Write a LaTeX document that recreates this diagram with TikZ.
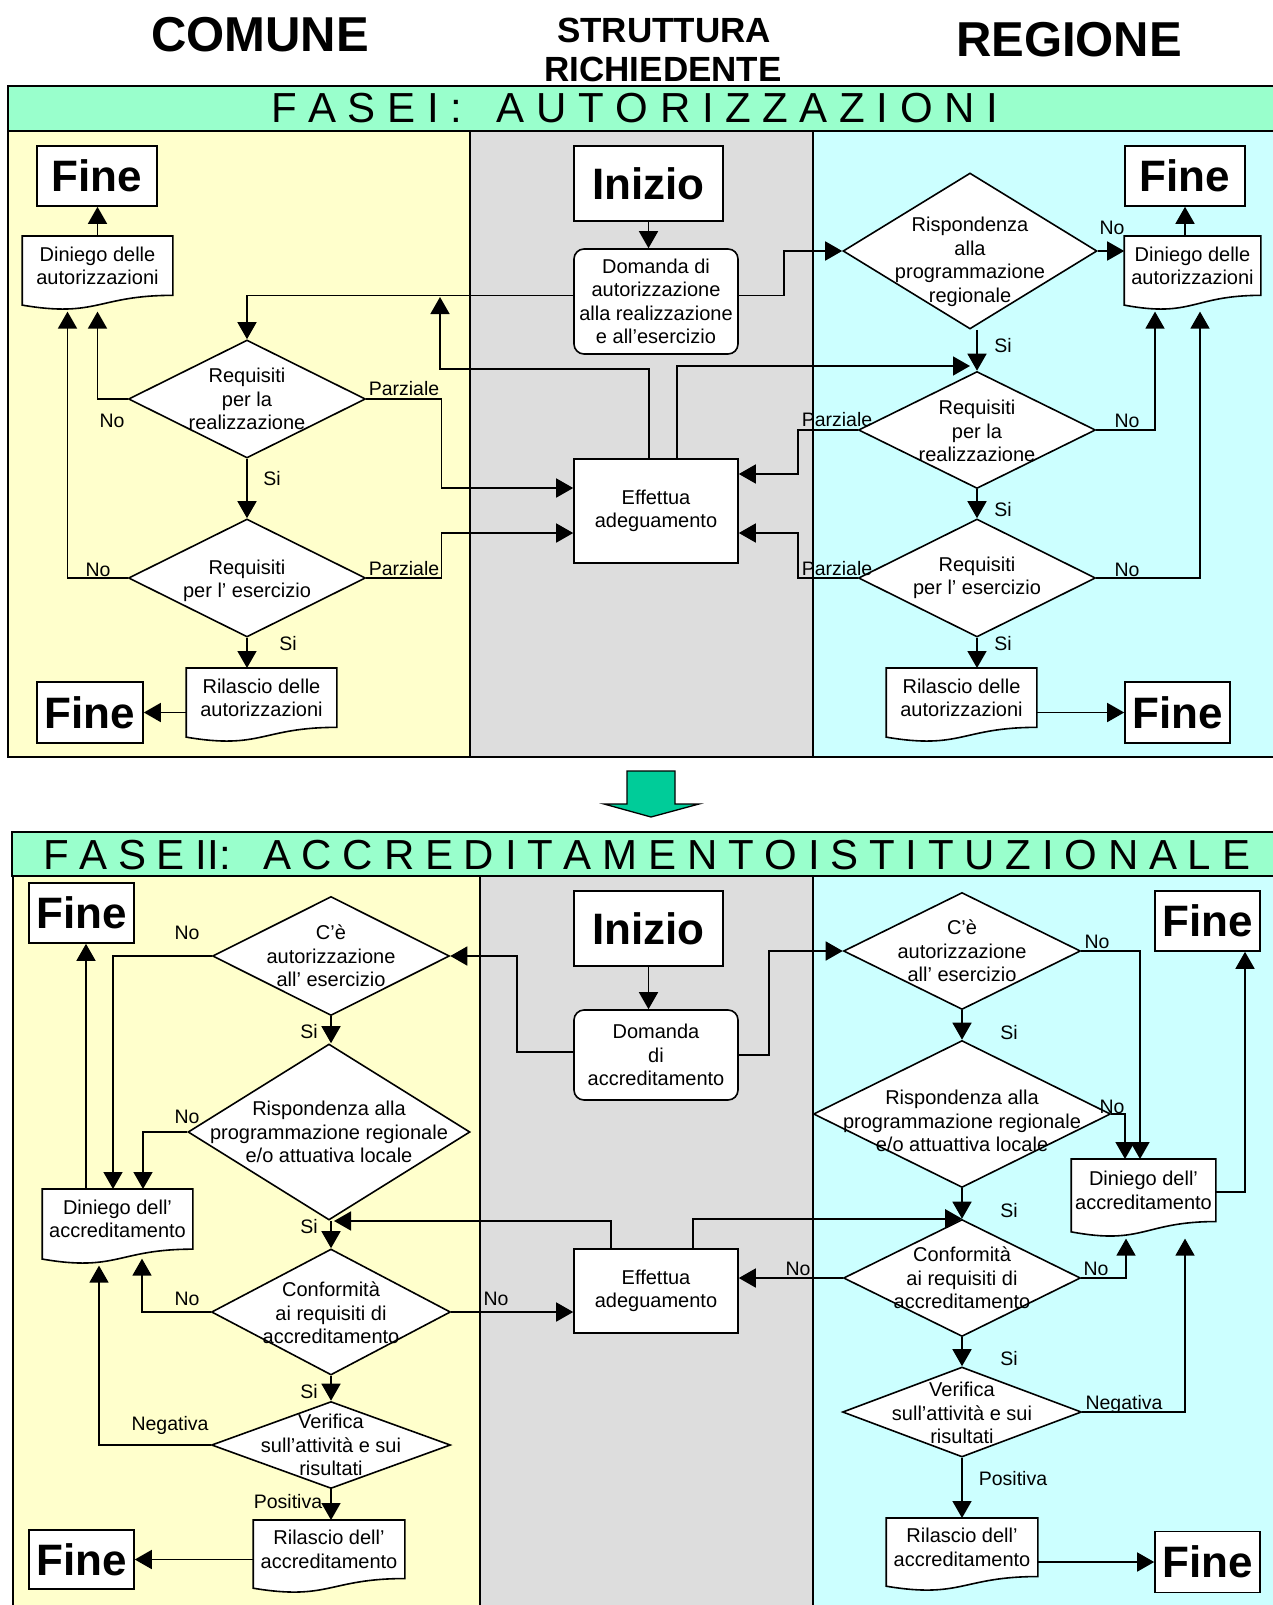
\documentclass[tikz,border=0pt]{standalone}
\usepackage{fontspec}
\setmainfont{Liberation Sans}
\usetikzlibrary{shapes.geometric,arrows.meta,calc}
\definecolor{lyellow}{HTML}{FFFFCC}
\definecolor{lgrey}{HTML}{DDDDDD}
\definecolor{lcyan}{HTML}{CCFFFF}
\definecolor{bandc}{HTML}{99FFCC}
\definecolor{garrow}{HTML}{00CC99}

\newcommand\docnode[6]{%
  \node[docn, minimum width=#4pt, minimum height=#5pt, anchor=north] (#1) at (#2,#3) {};
  \draw[fill=white] (#1.north west) -- (#1.north east) -- ($(#1.north east)+(0,{0.802*#5})$)
    .. controls ($(#1.north)+(0,{0.802*#5})$) and ($(#1.north)+(0,{1.1075*#5})$) ..
    ($(#1.north west)+(0,{0.934*#5})$) -- cycle;
  \node[txt] (#1-t) at ($(#1.north)+(0,{0.401*#5})$) {#6};
}
\newcommand\dianode[7]{%
  \node[dian, minimum width=#4pt, minimum height=#5pt] (#1) at (#2,#3) {};
  \node[txt] (#1-t) at (#2,#3+#6) {#7};
}

\begin{document}
\begin{tikzpicture}[x=1pt,y=-1pt,
  line width=1.6pt,
  txt/.style={font=\fontsize{20}{23.5}\selectfont, align=center, inner sep=0pt},
  lbl/.style={font=\fontsize{19.5}{23}\selectfont, inner sep=0pt},
  boxn/.style={rectangle, draw, fill=white, inner sep=0pt, txt},
  finen/.style={boxn, font=\fontsize{44}{50}\bfseries},
  roundn/.style={boxn, rounded corners=10pt},
  dian/.style={diamond, draw, fill=white, inner sep=0pt},
  docn/.style={rectangle, inner sep=0pt},
  arr/.style={-{Triangle[length=17pt,width=19pt]}},
  hdr/.style={anchor=base, inner sep=0pt},
]
\useasboundingbox (0,0) rectangle (1273,1605);

% ---------- headers ----------
\node[hdr, font=\fontsize{49}{55}\bfseries] (hc) at (260,52) {COMUNE};
\node[hdr, font=\fontsize{35}{40}\bfseries] (hs1) at (664,43) {STRUTTURA};
\node[hdr, font=\fontsize{35}{40}\bfseries] (hs2) at (663,82) {RICHIEDENTE};
\node[hdr, font=\fontsize{49}{55}\bfseries] (hr) at (1069,57) {REGIONE};

% ---------- phase I frame ----------
\path[fill=bandc, draw] (8,86) rectangle (1290,131);
\path[fill=lyellow, draw] (8,131) rectangle (470,757);
\path[fill=lgrey, draw] (470,131) rectangle (813,757);
\path[fill=lcyan, draw] (813,131) rectangle (1290,757);
\node[hdr, font=\fontsize{42}{48}\selectfont] (t1) at (634.5,123)
  {\makebox[727pt][s]{F A S E I :\ \ \ A U T O R I Z Z A Z I O N I}};

% ---------- transition arrow ----------
\path[fill=garrow, draw, line width=1.3pt] (627,771) -- (675,771) -- (675,804) -- (699,804)
  -- (651,817) -- (604,804) -- (627,804) -- cycle;

% ---------- phase II frame ----------
\path[fill=bandc, draw] (12,832) rectangle (1290,876);
\path[fill=lyellow, draw] (13,876) rectangle (480,1620);
\path[fill=lgrey, draw] (480,876) rectangle (813,1620);
\path[fill=lcyan, draw] (813,876) rectangle (1290,1620);
\node[hdr, font=\fontsize{42}{48}\selectfont] (t2) at (646.5,869)
  {\makebox[1207pt][s]{F A S E II:\ \ \ A C C R E D I T A M E N T O I S T I T U Z I O N A L E}};

% ================= PHASE I nodes =================
\node[finen, minimum width=120pt, minimum height=60pt] (f1) at (97,176) {Fine};
\docnode{dl1}{97.5}{236}{149}{74}{Diniego delle\\autorizzazioni}
\dianode{rl1}{247}{399}{237}{118}{0}{Requisiti\\per la\\realizzazione}
\dianode{re1}{247}{578}{237}{118}{3}{Requisiti\\per l’ esercizio}
\docnode{il1}{261.5}{668}{149}{74}{Rilascio delle\\autorizzazioni}
\node[finen, minimum width=106pt, minimum height=61pt] (f2) at (90,712.5) {Fine};

\node[finen, minimum width=149pt, minimum height=75pt] (s1) at (648.5,183.5) {Inizio};
\node[roundn, minimum width=164pt, minimum height=105pt] (d1) at (656,301.5)
  {Domanda di\\autorizzazione\\alla realizzazione\\e all’esercizio};
\node[boxn, minimum width=164pt, minimum height=104pt] (e1) at (656,511) {Effettua\\adeguamento};

\dianode{rp1}{970}{251}{254}{156}{11}{Rispondenza\\alla\\programmazione\\regionale}
\docnode{dr1}{1192.5}{236}{135}{74}{Diniego delle\\autorizzazioni}
\node[finen, minimum width=120pt, minimum height=60pt] (f3) at (1185,176) {Fine};
\dianode{rr1}{977}{430}{237}{117}{1}{Requisiti\\per la\\realizzazione}
\dianode{re2}{977}{578}{237}{118}{0}{Requisiti\\per l’ esercizio}
\docnode{ir1}{961.5}{668}{149}{74}{Rilascio delle\\autorizzazioni}
\node[finen, minimum width=105pt, minimum height=61pt] (f4) at (1177.5,712.5) {Fine};

% ================= PHASE I connectors =================
\draw[arr] (s1.south) -- (s1.south |- d1.north);
\draw[arr] (dl1.north) -- (dl1.north |- f1.south);
\draw[arr] ([yshift=6pt]d1.west) -| (rl1.north);
\draw[arr] ([yshift=6pt]d1.east) -- ++(45,0) |- (rp1.west);
\coordinate (j1) at (440,297);
\draw[arr] ([xshift=-7pt]e1.north) -- ++(0,-89) -| (j1);
\coordinate (j2) at (970,366);
\draw[arr] ([xshift=21pt]e1.north) |- (j2);
\draw[arr] (rp1.south -| rr1.north) -- (rr1.north);
\draw[arr] (rp1.east) -- (rp1.east -| dr1.west);
\draw[arr] (f3.south |- dr1.north) -- (f3.south);
\draw[arr] (rl1.west) -| (dl1.south);
\draw[arr] (rl1.east) -- ++(75,0) |- ([yshift=23pt]e1.west);
\draw[arr] (rl1.south) -- (re1.north);
\draw[arr] (re1.west) -| ([xshift=-30pt]dl1.south);
\draw[arr] (re1.east) -- ++(75,0) |- ([yshift=-22pt]e1.west);
\draw[arr] (re1.south) -- (re1.south |- il1.north);
\draw[arr] (il1.west |- f2.east) -- (f2.east);
\draw[arr] (rr1.east) -| ([xshift=-37.5pt]dr1.south);
\draw[arr] (rr1.west) -- ++(-60,0) |- ([yshift=37pt]e1.east);
\draw[arr] (rr1.south) -- (re2.north);
\draw[arr] (re2.east) -| ([xshift=7.5pt]dr1.south);
\draw[arr] (re2.west) -- ++(-60,0) |- ([yshift=-22pt]e1.east);
\draw[arr] (re2.south) -- (re2.south |- ir1.north);
\draw[arr] (ir1.east |- f4.west) -- (f4.west);

% labels phase I
\node[lbl] (la1) at (1112,228) {No};
\node[lbl] (la2) at (1003,346) {Si};
\node[lbl] (la3) at (112,421) {No};
\node[lbl] (la4) at (404,389) {Parziale};
\node[lbl] (la5) at (272,479) {Si};
\node[lbl] (la6) at (98,570) {No};
\node[lbl] (la7) at (404,569) {Parziale};
\node[lbl] (la8) at (288,644) {Si};
\node[lbl] (la9) at (1127,421) {No};
\node[lbl] (la10) at (837,420) {Parziale};
\node[lbl] (la11) at (1003,510) {Si};
\node[lbl] (la12) at (1127,570) {No};
\node[lbl] (la13) at (837,569) {Parziale};
\node[lbl] (la14) at (1003,644) {Si};

% ================= PHASE II nodes =================
\node[finen, minimum width=105pt, minimum height=60pt] (f5) at (81.5,913) {Fine};
\dianode{cal}{331}{956}{237}{119}{0}{C’è\\autorizzazione\\all’ esercizio}
\dianode{rpl}{329}{1132}{282}{176}{0}{Rispondenza alla\\programmazione regionale\\e/o attuativa locale}
\docnode{dl3}{117.5}{1189}{149}{75}{Diniego dell’\\accreditamento}
\dianode{cfl}{331}{1312}{239}{126}{1}{Conformità\\ai requisiti di\\accreditamento}
\dianode{vfl}{331}{1445}{239}{87}{0}{Verifica\\sull’attività e sui\\risultati}
\docnode{il2}{329}{1520}{150}{73}{Rilascio dell’\\accreditamento}
\node[finen, minimum width=105pt, minimum height=59pt] (f6) at (81.5,1559.5) {Fine};

\node[finen, minimum width=149pt, minimum height=75pt] (s2) at (648.5,928.5) {Inizio};
\node[roundn, minimum width=164pt, minimum height=90pt] (d2) at (656,1055) {Domanda\\di\\accreditamento};
\node[boxn, minimum width=164pt, minimum height=84pt] (e2) at (656,1291) {Effettua\\adeguamento};

\dianode{car}{962}{951}{237}{117}{0}{C’è\\autorizzazione\\all’ esercizio}
\dianode{rpr}{962}{1114}{297}{147}{7}{Rispondenza alla\\programmazione regionale\\e/o attuattiva locale}
\docnode{dr3}{1143.5}{1159}{143}{78}{Diniego dell’\\accreditamento}
\node[finen, minimum width=105pt, minimum height=60pt] (f7) at (1207.5,921) {Fine};
\dianode{cfr}{962}{1278}{237}{117}{0}{Conformità\\ai requisiti di\\accreditamento}
\dianode{vfr}{962}{1412}{239}{90}{1}{Verifica\\sull’attività e sui\\risultati}
\docnode{ir2}{962}{1518}{150}{73}{Rilascio dell’\\accreditamento}
\node[finen, minimum width=105pt, minimum height=61pt] (f8) at (1207.5,1562) {Fine};

% ================= PHASE II connectors =================
\draw[arr] (s2.south) -- (s2.south |- d2.north);
\draw[arr] ([yshift=3pt]d2.west) -- ++(-56,0) |- (cal.east);
\draw[arr] (d2.east) -- ++(30,0) |- (car.west);
\draw[arr] (cal.west) -| ([xshift=-4.5pt]dl3.north);
\draw[arr] (cal.south) -- (cal.south |- rpl.north);
\draw[arr] (rpl.west) -| ([xshift=25.5pt]dl3.north);
\draw[arr] ([xshift=-31.5pt]dl3.north) -- ([xshift=4.5pt]f5.south);
\draw[arr] (cfl.north |- rpl.south) -- (cfl.north);
\coordinate (j3) at (334,1221);
\draw[arr] ([xshift=-45pt]e2.north) |- (j3);
\draw[arr] ([xshift=37pt]e2.north) |- (cfr.north);
\draw[arr] (cfl.east) -- (cfl.east -| e2.west);
\draw[arr] (cfl.west) -| ([xshift=24.5pt,yshift=7pt]dl3.south);
\draw[arr] (cfl.south) -- (vfl.north);
\draw[arr] (vfl.west) -| ([xshift=-18.5pt]dl3.south);
\draw[arr] (vfl.south) -- (vfl.south |- il2.north);
\draw[arr] (il2.west |- f6.east) -- (f6.east);
\draw[arr] (car.east) -| ([xshift=-3.5pt]dr3.north);
\draw[arr] (car.south) -- (rpr.north);
\draw[arr] (rpr.east) -| ([xshift=-18.5pt]dr3.north);
\draw[arr] ([yshift=7pt]dr3.east) -| ([xshift=37.5pt]f7.south);
\draw[arr] (rpr.south) -- (cfr.north);
\draw[arr] (cfr.west) -- (cfr.west -| e2.east);
\draw[arr] (cfr.east) -| ([xshift=-17.5pt]dr3.south);
\draw[arr] (cfr.south) -- (vfr.north);
\draw[arr] (vfr.east) -| ([xshift=41.5pt]dr3.south);
\draw[arr] (vfr.south) -- (vfr.south |- ir2.north);
\draw[arr] (ir2.east |- f8.west) -- (f8.west);

% labels phase II
\node[lbl] (lb1) at (187,933) {No};
\node[lbl] (lb2) at (309,1032) {Si};
\node[lbl] (lb3) at (187,1117) {No};
\node[lbl] (lb4) at (309,1227) {Si};
\node[lbl] (lb5) at (496,1299) {No};
\node[lbl] (lb6) at (187,1299) {No};
\node[lbl] (lb7) at (309,1392) {Si};
\node[lbl] (lb8) at (170,1425) {Negativa};
\node[lbl] (lb9) at (288,1502) {Positiva};
\node[lbl] (lb10) at (1097,942) {No};
\node[lbl] (lb11) at (1009,1033) {Si};
\node[lbl] (lb12) at (1112,1107) {No};
\node[lbl] (lb13) at (1009,1211) {Si};
\node[lbl] (lb14) at (798,1269) {No};
\node[lbl] (lb15) at (1096,1269) {No};
\node[lbl] (lb16) at (1009,1359) {Si};
\node[lbl] (lb17) at (1124,1404) {Negativa};
\node[lbl] (lb18) at (1013,1479) {Positiva};
\end{tikzpicture}
\end{document}
